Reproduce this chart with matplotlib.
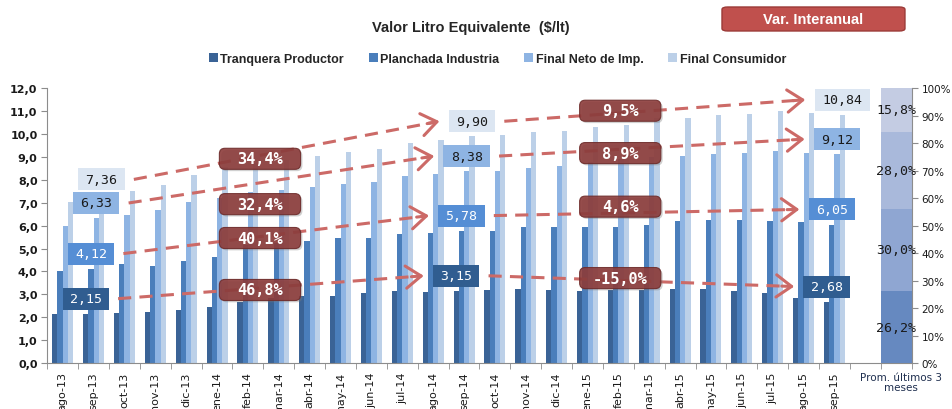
import numpy as np
import matplotlib
matplotlib.use("Agg")
import matplotlib.pyplot as plt
from matplotlib.patches import FancyBboxPatch, Rectangle, Patch

# monthly values ($/lt)
months = ["ago-13", "sep-13", "oct-13", "nov-13", "dic-13", "ene-14", "feb-14", "mar-14",
          "abr-14", "may-14", "jun-14", "jul-14", "ago-14", "sep-14", "oct-14", "nov-14",
          "dic-14", "ene-15", "feb-15", "mar-15", "abr-15", "may-15", "jun-15", "jul-15",
          "ago-15", "sep-15"]
tranquera = [2.12, 2.15, 2.17, 2.21, 2.30, 2.45, 2.68, 2.85, 2.94, 2.94, 3.04, 3.13, 3.09,
             3.15, 3.19, 3.23, 3.19, 3.13, 3.19, 3.20, 3.23, 3.23, 3.13, 3.04, 2.84, 2.68]
planchada = [4.00, 4.12, 4.34, 4.25, 4.44, 4.61, 5.15, 5.25, 5.31, 5.47, 5.47, 5.62, 5.68,
             5.78, 5.75, 5.92, 5.92, 5.92, 5.92, 6.05, 6.21, 6.24, 6.24, 6.21, 6.14, 6.05]
final_neto = [6.00, 6.33, 6.45, 6.70, 7.04, 7.20, 7.45, 7.57, 7.67, 7.82, 7.92, 8.15, 8.25,
              8.38, 8.40, 8.54, 8.59, 8.80, 8.90, 9.00, 9.05, 9.13, 9.17, 9.27, 9.17, 9.12]
consumidor = [7.02, 7.36, 7.51, 7.77, 8.21, 8.55, 8.75, 8.85, 9.05, 9.23, 9.34, 9.61, 9.75,
              9.90, 9.96, 10.10, 10.15, 10.29, 10.39, 10.70, 10.70, 10.83, 10.87, 11.02,
              10.90, 10.84]
series_names = ["Tranquera Productor", "Planchada Industria", "Final Neto de Imp.", "Final Consumidor"]

# labelled months and year-on-year changes
label_months = ["sep-13", "sep-14", "sep-15"]
var_13_14 = ["46,8%", "40,1%", "32,4%", "34,4%"]
var_14_15 = ["-15,0%", "4,6%", "8,9%", "9,5%"]

# share of final price, average of last 3 months
prom_label = "Prom. últimos 3\nmeses"
share = [26.2, 30.0, 28.0, 15.8]

bar_cols = ["#3A6396", "#4A7EBB", "#8EB4E3", "#BCD0E8"]
lab_cols = ["#305D90", "#558ED5", "#8EB4E3", "#DCE6F2"]
lab_txt = ["white", "white", "#1a1a1a", "#1a1a1a"]
share_cols = ["#6689C0", "#8FA6D2", "#A9B9DB", "#C4CCE3"]
arrow_col = "#CC6A67"
box_col = "#8C3B3A"

MONO = ["DejaVu Sans Mono"]
NARROW = ["Liberation Sans", "DejaVu Sans"]

fig = plt.figure(figsize=(9.53, 4.10), dpi=100)
ax = fig.add_axes([0.0496, 0.1122, 0.907, 0.670])

data = [tranquera, planchada, final_neto, consumidor]
x = np.arange(len(months))
bw = 0.17
offs = (np.arange(4) - 1.5) * bw
for i in range(4):
    ax.bar(x + offs[i], data[i], width=bw, color=bar_cols[i], zorder=2, linewidth=0)

ax.set_xlim(-0.5, len(months) + 1.5)
ax.set_ylim(0, 12)
ax.set_yticks(np.arange(0, 13, 1))
ax.set_yticklabels([f"{v:.1f}".replace(".", ",") for v in np.arange(0, 13, 1)],
                   fontsize=8, fontweight="bold", color="#1a1a1a")
ax.set_xticks(x)
ax.set_xticklabels(months, rotation=90, fontsize=8, color="#1a1a1a", va="top")
ax.set_xticks(np.arange(-0.5, len(months) + 2, 1), minor=True)
ax.tick_params(axis="x", which="major", length=0, pad=6)
ax.tick_params(axis="x", which="minor", length=4, color="#8c8c8c")
ax.tick_params(axis="y", length=4, color="#8c8c8c", pad=3)
for s in ["top", "right"]:
    ax.spines[s].set_visible(False)
for s in ["left", "bottom"]:
    ax.spines[s].set_color("#8c8c8c")

ax.text(len(months) + 1.15, -0.4, prom_label, ha="center", va="top", fontsize=7.5,
        color="#1F2F4F", linespacing=1.0)

# value labels on the september bars + dashed arrows between them
lab_pos = {}
for m in label_months:
    k = months.index(m)
    for i in range(4):
        v = data[i][k]
        txt = f"{v:.2f}".replace(".", ",")
        w = 0.3 * len(txt) + 0.3
        cx, cy = k + offs[i], v + 0.66
        ax.add_patch(Rectangle((cx - w / 2, cy - 0.48), w, 0.96, facecolor=lab_cols[i],
                               edgecolor="none", zorder=6))
        ax.text(cx, cy, txt, ha="center", va="center", fontsize=9.5, family=MONO,
                color=lab_txt[i], zorder=7)
        lab_pos[(m, i)] = (cx, cy, w)

gap = 0.3
for a, b in [(label_months[0], label_months[1]), (label_months[1], label_months[2])]:
    for i in range(4):
        x0, y0, w0 = lab_pos[(a, i)]
        x1, y1, w1 = lab_pos[(b, i)]
        xs, xe = x0 + w0 / 2 + gap, x1 - w1 / 2 - gap
        slope = (y1 - y0) / (xe - xs)
        ax.plot([xs, xe - 0.15], [y0, y1 - 0.15 * slope], color=arrow_col,
                lw=2.2, dashes=(4.3, 2.7), zorder=3, solid_capstyle="butt")
        ax.annotate("", xy=(xe, y1), xytext=(xe - 0.4, y1 - 0.4 * slope),
                    arrowprops=dict(arrowstyle="->,head_length=0.55,head_width=0.4",
                                    color=arrow_col, lw=2.2, mutation_scale=20,
                                    shrinkA=0, shrinkB=0), zorder=3)

# year-on-year boxes
asp = (1 / 22.9) / (1 / 30.8)
box_x = [6.39, 18.06]
box_y = [[3.19, 5.46, 6.94, 8.92], [3.71, 6.83, 9.17, 11.02]]
for bx, ys, labs in zip(box_x, box_y, [var_13_14, var_14_15]):
    for yy, t in zip(ys, labs):
        bw_, bh_ = 2.63, 0.92
        sh = FancyBboxPatch((bx - bw_ / 2 + 0.06, yy - bh_ / 2 - 0.08), bw_, bh_,
                            boxstyle="round,pad=0,rounding_size=0.18", mutation_aspect=asp,
                            facecolor="#7a7a7a", edgecolor="none", alpha=0.35, zorder=4)
        ax.add_patch(sh)
        p = FancyBboxPatch((bx - bw_ / 2, yy - bh_ / 2), bw_, bh_,
                           boxstyle="round,pad=0,rounding_size=0.18", mutation_aspect=asp,
                           facecolor=box_col, edgecolor="#6e2c2b", lw=0.8, alpha=0.9, zorder=4)
        ax.add_patch(p)
        ax.text(bx, yy, t, ha="center", va="center", fontsize=11, fontweight="bold",
                family=MONO, color="white", zorder=5)

# right axis: composition of final price
ax2 = ax.twinx()
ax2.set_ylim(0, 100)
kpos = len(months) + 1
bottom = 0
for v, c in zip(share, share_cols):
    ax2.bar(kpos, v, bottom=bottom, width=1.0, color=c, linewidth=0, zorder=2)
    ax2.text(kpos, bottom + v / 2, f"{v:.1f}%".replace(".", ","), ha="center", va="center",
             fontsize=9.5, family=MONO, color="#1a1a1a", zorder=5)
    bottom += v
ax2.set_yticks(np.arange(0, 101, 10))
ax2.set_yticklabels([f"{t}%" for t in range(0, 101, 10)], fontsize=7.5, color="#1a1a1a")
ax2.tick_params(axis="y", length=4, color="#8c8c8c", pad=3)
for s in ["top", "left", "bottom"]:
    ax2.spines[s].set_visible(False)
ax2.spines["right"].set_color("#8c8c8c")

# title, legend and header box
fig.text(0.494, 0.932, "Valor Litro Equivalente  ($/lt)", ha="center", va="center",
         fontsize=10.5, fontweight="bold", family=NARROW, color="#262626")
handles = [Patch(facecolor=c, edgecolor="none") for c in bar_cols]
fig.legend(handles, series_names, loc="center", bbox_to_anchor=(0.522, 0.854), ncol=4,
           frameon=False, handlelength=0.7, handleheight=0.7, handletextpad=0.2,
           columnspacing=2.0, prop={"family": NARROW, "size": 9, "weight": "bold"},
           labelcolor="#262626")

hb = FancyBboxPatch((0.7576, 0.922), 0.192, 0.0585, boxstyle="round,pad=0,rounding_size=0.006",
                    transform=fig.transFigure, facecolor="#C0504D", edgecolor="#9b3a37", lw=1)
fig.add_artist(hb)
fig.text(0.853, 0.951, "Var. Interanual", ha="center", va="center", fontsize=10.5,
         fontweight="bold", family=NARROW, color="white")

fig.savefig("out.png", dpi=100)
